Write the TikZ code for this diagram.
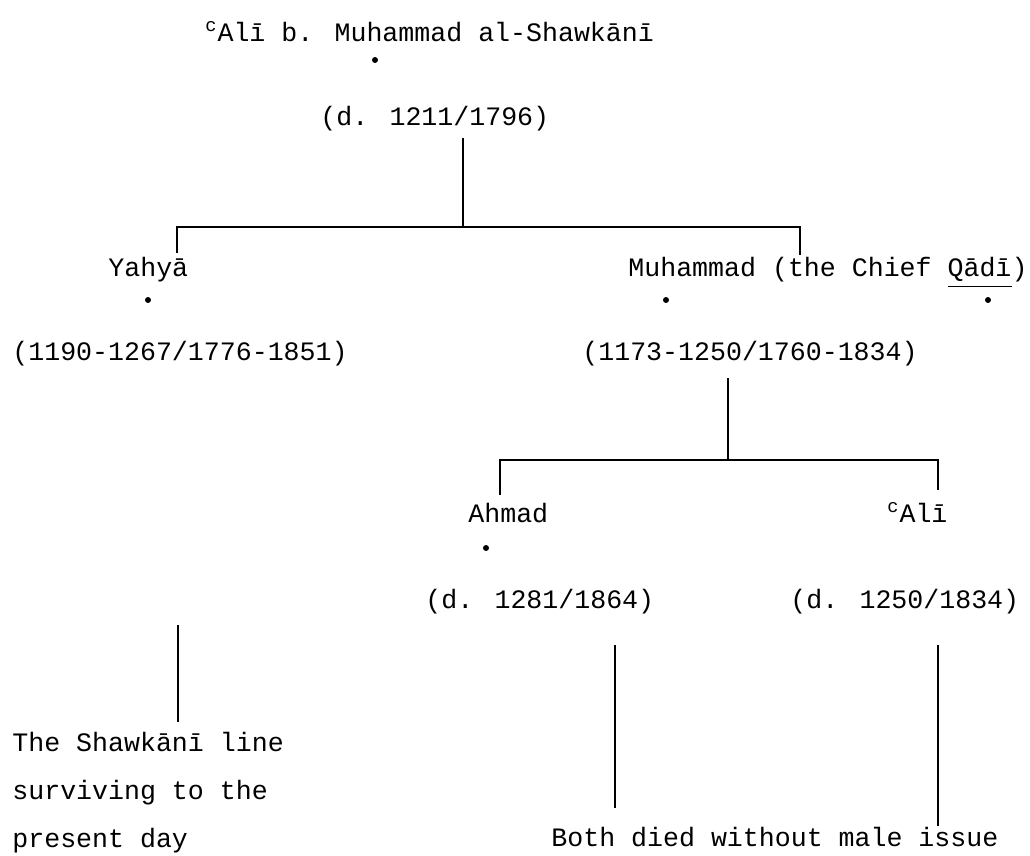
\documentclass[tikz,border=0pt]{standalone}
\usepackage{fontspec}
\setmainfont{Liberation Mono}
\usetikzlibrary{positioning}

\newcommand{\lowline}[1]{\underline{#1\rule[-3.5pt]{0pt}{0pt}}}

\tikzset{
  typed/.style={anchor=base west, inner sep=0pt, font=\fontsize{13.3}{16}\selectfont},
  dotmark/.style={circle, fill, inner sep=0pt, minimum size=3pt},
  stem/.style={line width=1.2pt}
}

\begin{document}
\begin{tikzpicture}[x=0.5pt, y=-0.5pt]
    \useasboundingbox (0,0) rectangle (1030,856);

    % first generation
    \node[typed] (shawkani) at (205,42) {\textsuperscript{c}Alī b. Muhammad al-Shawkānī};
    \node[dotmark] (shawkanidot) at (375,60) {};
    \node[typed] (shawkanidate) at (320,126) {(d. 1211/1796)};

    % second generation
    \node[typed] (yahya) at (108,277) {Yahyā};
    \node[dotmark] (yahyadot) at (148,300) {};
    \node[typed] (yahyadate) at (12,360) {(1190-1267/1776-1851)};

    \node[typed] (muhammad) at (628,277) {Muhammad (the Chief \lowline{Qādī})};
    \node[dotmark] (muhammaddot) at (666,300) {};
    \node[dotmark] (qadidot) at (988,300) {};
    \node[typed] (muhammaddate) at (582,360) {(1173-1250/1760-1834)};

    % third generation
    \node[typed] (ahmad) at (468,523) {Ahmad};
    \node[dotmark] (ahmaddot) at (486,548) {};
    \node[typed] (ali) at (887,523) {\textsuperscript{c}Alī};
    \node[typed] (ahmaddate) at (425,608) {(d. 1281/1864)};
    \node[typed] (alidate) at (790,608) {(d. 1250/1834)};

    % notes
    \node[typed, align=left, anchor=north west] (survivors) at (12,732) {The Shawkānī line\\[8pt]surviving to the\\[8pt]present day};
    \node[typed] (noissue) at (551,846) {Both died without male issue};

    % fork under the father
    \coordinate (forktop) at (463,138);
    \coordinate (fork) at (463,227);
    \coordinate (yahyatop) at (177,253);
    \coordinate (muhammadtop) at (800,255);
    \draw[stem] (forktop) -- (fork);
    \draw[stem] (yahyatop) |- (fork) -| (muhammadtop);

    % fork under Muhammad
    \coordinate (subforktop) at (728,378);
    \coordinate (subfork) at (728,460);
    \coordinate (ahmadtop) at (500,495);
    \coordinate (alitop) at (938,490);
    \draw[stem] (subforktop) -- (subfork);
    \draw[stem] (ahmadtop) |- (subfork) -| (alitop);

    % descent lines
    \coordinate (yahyalineA) at (178,625);
    \coordinate (yahyalineB) at (178,722);
    \coordinate (ahmadlineA) at (615,645);
    \coordinate (ahmadlineB) at (615,808);
    \coordinate (alilineA) at (938,645);
    \coordinate (alilineB) at (938,826);
    \draw[stem] (yahyalineA) -- (yahyalineB);
    \draw[stem] (ahmadlineA) -- (ahmadlineB);
    \draw[stem] (alilineA) -- (alilineB);
\end{tikzpicture}
\end{document}
